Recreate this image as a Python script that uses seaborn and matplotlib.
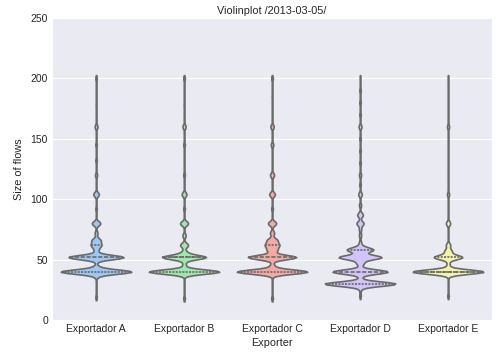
import numpy as np
import pandas as pd
import seaborn as sns
import matplotlib.pyplot as plt

# packet sizes seen per exporter and how often each occurs
exporters = ["Exportador A", "Exportador B", "Exportador C", "Exportador D", "Exportador E"]

values_a = [19, 36, 40, 44, 52, 58, 62, 66, 72, 80, 92, 104, 120, 132, 145, 160, 178, 200]
counts_a = [2, 3, 100, 6, 78, 6, 14, 12, 4, 12, 2, 8, 3, 2, 2, 4, 1, 2]

values_b = [18, 40, 46, 52, 56, 62, 70, 80, 92, 104, 120, 145, 160, 178, 200]
counts_b = [2, 88, 4, 54, 6, 10, 4, 10, 2, 6, 2, 2, 4, 1, 2]

values_c = [18, 40, 45, 52, 58, 62, 66, 72, 80, 92, 104, 120, 145, 160, 185, 200]
counts_c = [2, 85, 5, 58, 12, 16, 12, 5, 10, 2, 7, 5, 3, 4, 1, 2]

values_d = [20, 25, 30, 35, 40, 47, 52, 58, 60, 64, 70, 75, 80, 87, 95, 104, 112,
            120, 130, 140, 150, 160, 170, 180, 190, 200]
counts_d = [2, 2, 100, 3, 78, 10, 60, 34, 6, 3, 3, 3, 10, 8, 3, 5, 2,
            3, 2, 2, 2, 4, 2, 2, 2, 1]

values_e = [20, 40, 46, 52, 57, 62, 80, 104, 120, 160, 200]
counts_e = [2, 100, 4, 40, 10, 6, 6, 3, 1, 3, 1]

pastel_old = ["#92C6FF", "#97F0AA", "#FF9F9A", "#D0BBFF", "#FFFEA3"]

vals = [values_a, values_b, values_c, values_d, values_e]
cnts = [counts_a, counts_b, counts_c, counts_d, counts_e]
frames = []
for name, v, c in zip(exporters, vals, cnts):
    frames.append(pd.DataFrame({"Exporter": name, "size": np.repeat(v, c)}))
df = pd.concat(frames, ignore_index=True)

sns.set_style("darkgrid")
plt.rcParams["font.family"] = ["Liberation Sans", "DejaVu Sans"]

fig = plt.figure(figsize=(4.96, 3.52), dpi=100)
ax = fig.add_axes([0.105, 0.091, 0.887, 0.858])

# fixed absolute bandwidth whatever the spread of each group
sns.violinplot(data=df, x="Exporter", y="size", hue="Exporter", palette=pastel_old,
               legend=False, inner="quart", density_norm="width", cut=1.5,
               bw_method=lambda k: 1.8 / k.dataset.std(ddof=1), gridsize=200,
               linewidth=1.2, linecolor="#6a6a6a", saturation=0.75, ax=ax)

ax.set_ylim(0, 250)
ax.set_yticks(range(0, 251, 50))
ax.set_title("Violinplot /2013-03-05/", fontsize=7.8, pad=3)
ax.set_xlabel("Exporter", fontsize=7.8, labelpad=3)
ax.set_ylabel("Size of flows", fontsize=7.8, labelpad=5)
ax.tick_params(labelsize=7.5, length=0, pad=3)

fig.savefig("out.png", dpi=100)
